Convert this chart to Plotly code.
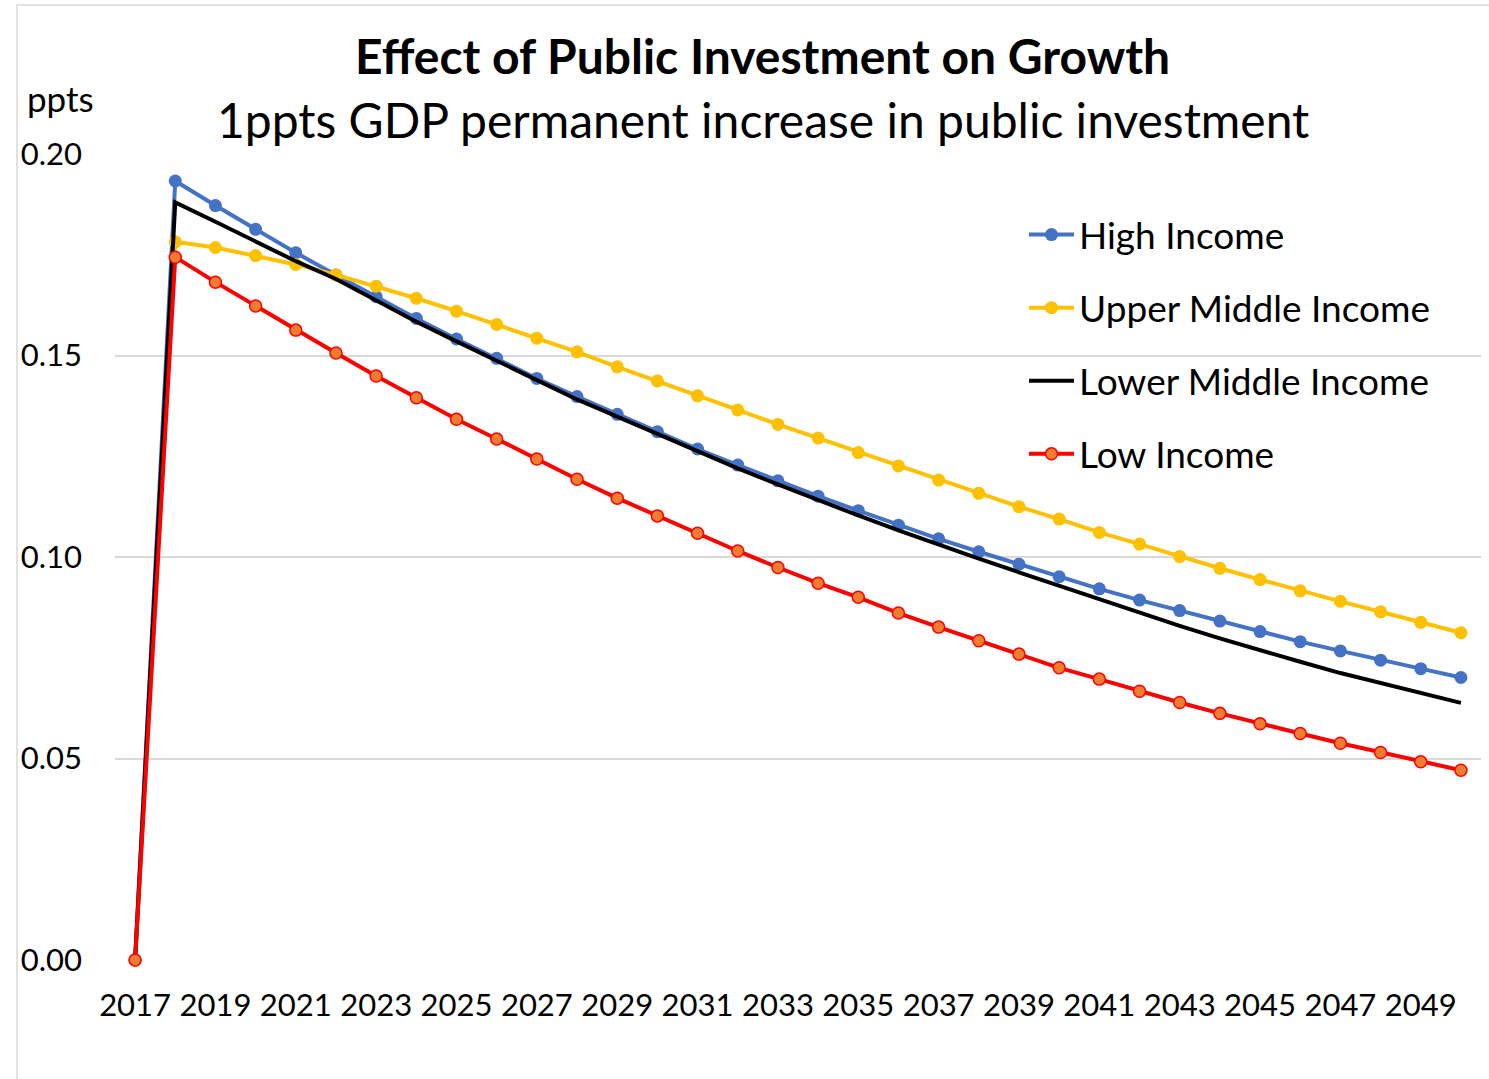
import plotly.graph_objects as go

# Years on the category axis
years = list(range(2017, 2051))

# Growth effect (ppts) by income group
high_income = [0.0, 0.1933, 0.1872, 0.1813, 0.1755, 0.1700, 0.1646, 0.1592, 0.1541, 0.1493,
               0.1443, 0.1398, 0.1354, 0.1311, 0.1268, 0.1228, 0.1189, 0.1151, 0.1115, 0.1079,
               0.1045, 0.1013, 0.0982, 0.0951, 0.0921, 0.0893, 0.0867, 0.0841, 0.0815, 0.0790,
               0.0767, 0.0744, 0.0723, 0.0701]
upper_middle = [0.0, 0.1782, 0.1768, 0.1748, 0.1726, 0.1700, 0.1672, 0.1642, 0.1610, 0.1577,
                0.1543, 0.1509, 0.1472, 0.1437, 0.1400, 0.1365, 0.1329, 0.1295, 0.1259, 0.1226,
                0.1191, 0.1158, 0.1125, 0.1094, 0.1061, 0.1032, 0.1001, 0.0972, 0.0944, 0.0916,
                0.0890, 0.0864, 0.0838, 0.0812]
lower_middle = [0.0, 0.1880, 0.1832, 0.1783, 0.1734, 0.1690, 0.1636, 0.1584, 0.1535, 0.1486,
                0.1439, 0.1391, 0.1348, 0.1305, 0.1262, 0.1220, 0.1180, 0.1141, 0.1103, 0.1066,
                0.1030, 0.0996, 0.0962, 0.0929, 0.0895, 0.0861, 0.0829, 0.0798, 0.0768, 0.0740,
                0.0712, 0.0687, 0.0662, 0.0638]
low_income = [0.0, 0.1744, 0.1682, 0.1623, 0.1563, 0.1506, 0.1449, 0.1395, 0.1342, 0.1293,
              0.1243, 0.1193, 0.1146, 0.1102, 0.1059, 0.1015, 0.0974, 0.0935, 0.0900, 0.0861,
              0.0826, 0.0792, 0.0759, 0.0725, 0.0697, 0.0667, 0.0639, 0.0612, 0.0586, 0.0562,
              0.0538, 0.0515, 0.0492, 0.0471]

y_ticks = [0.00, 0.05, 0.10, 0.15, 0.20]
x_ticks = list(range(2017, 2050, 2))

FONT = "Lato, 'Open Sans', sans-serif"
LW = 4

fig = go.Figure()
fig.add_trace(go.Scatter(
    x=years, y=high_income, name="High Income", mode="lines+markers", legendgroup="a",
    line=dict(color="#4472C4", width=LW), cliponaxis=False,
    marker=dict(color="#4472C4", size=13, line=dict(width=0)),
))
fig.add_trace(go.Scatter(
    x=years, y=upper_middle, name="Upper Middle Income", mode="lines+markers", legendgroup="b",
    line=dict(color="#FFC000", width=LW), cliponaxis=False,
    marker=dict(color="#FFC000", size=13, line=dict(width=0)),
))
fig.add_trace(go.Scatter(
    x=years, y=lower_middle, name="Lower Middle Income", mode="lines", legendgroup="c",
    line=dict(color="#000000", width=LW), cliponaxis=False,
))
fig.add_trace(go.Scatter(
    x=years, y=low_income, name="Low Income", mode="lines+markers", legendgroup="d",
    line=dict(color="#FF0000", width=LW), cliponaxis=False,
    marker=dict(color="#ED7D31", size=12, line=dict(color="#FF0000", width=1.5)),
))

plot_l, plot_t = 115, 154
plot_w, plot_h = 1489 - 115 - 8, 1079 - 154 - 119


def px_x(px):
    return (px - plot_l) / plot_w


def px_y(py):
    return (plot_t + plot_h - py) / plot_h


fig.update_layout(
    width=1489, height=1079,
    margin=dict(l=plot_l, r=8, t=plot_t, b=119),
    paper_bgcolor="white", plot_bgcolor="white",
    font=dict(family=FONT, color="black", size=31),
    showlegend=True,
    legend=dict(
        x=px_x(1024), y=px_y(204), xanchor="left", yanchor="top",
        font=dict(size=37, family=FONT),
        bgcolor="rgba(0,0,0,0)", tracegroupgap=22,
        itemwidth=45,
    ),
    xaxis=dict(
        range=[2016.5, 2050.5], tickvals=x_ticks, ticktext=[str(v) for v in x_ticks],
        showgrid=False, zeroline=False, showline=False, ticks="",
        tickfont=dict(size=31, family=FONT), ticklabelstandoff=24,
    ),
    yaxis=dict(
        range=[0, 0.2], tickvals=y_ticks, ticktext=[f"{v:.2f}" for v in y_ticks],
        showgrid=True, gridcolor="#D9D9D9", gridwidth=1.5, zeroline=False,
        showline=False, ticks="", tickfont=dict(size=31, family=FONT),
        ticklabelstandoff=32,
    ),
    annotations=[
        dict(text="<b>Effect of Public Investment on Growth</b>",
             x=px_x(1489 / 2 + 18), y=px_y(55), xanchor="center", yanchor="middle",
             xref="paper", yref="paper", showarrow=False, font=dict(size=48)),
        dict(text="1ppts GDP permanent increase in public investment",
             x=px_x(1489 / 2 + 18), y=px_y(120), xanchor="center", yanchor="middle",
             xref="paper", yref="paper", showarrow=False, font=dict(size=48)),
        dict(text="ppts", x=px_x(25), y=px_y(98), xanchor="left", yanchor="middle",
             xref="paper", yref="paper", showarrow=False, font=dict(size=35)),
    ],
)

# light chart border
fig.add_shape(type="rect", xref="paper", yref="paper",
              x0=px_x(17), x1=px_x(1495), y0=px_y(1090), y1=px_y(5),
              line=dict(color="#D9D9D9", width=1.5), layer="below")

fig.write_html("out.html")
